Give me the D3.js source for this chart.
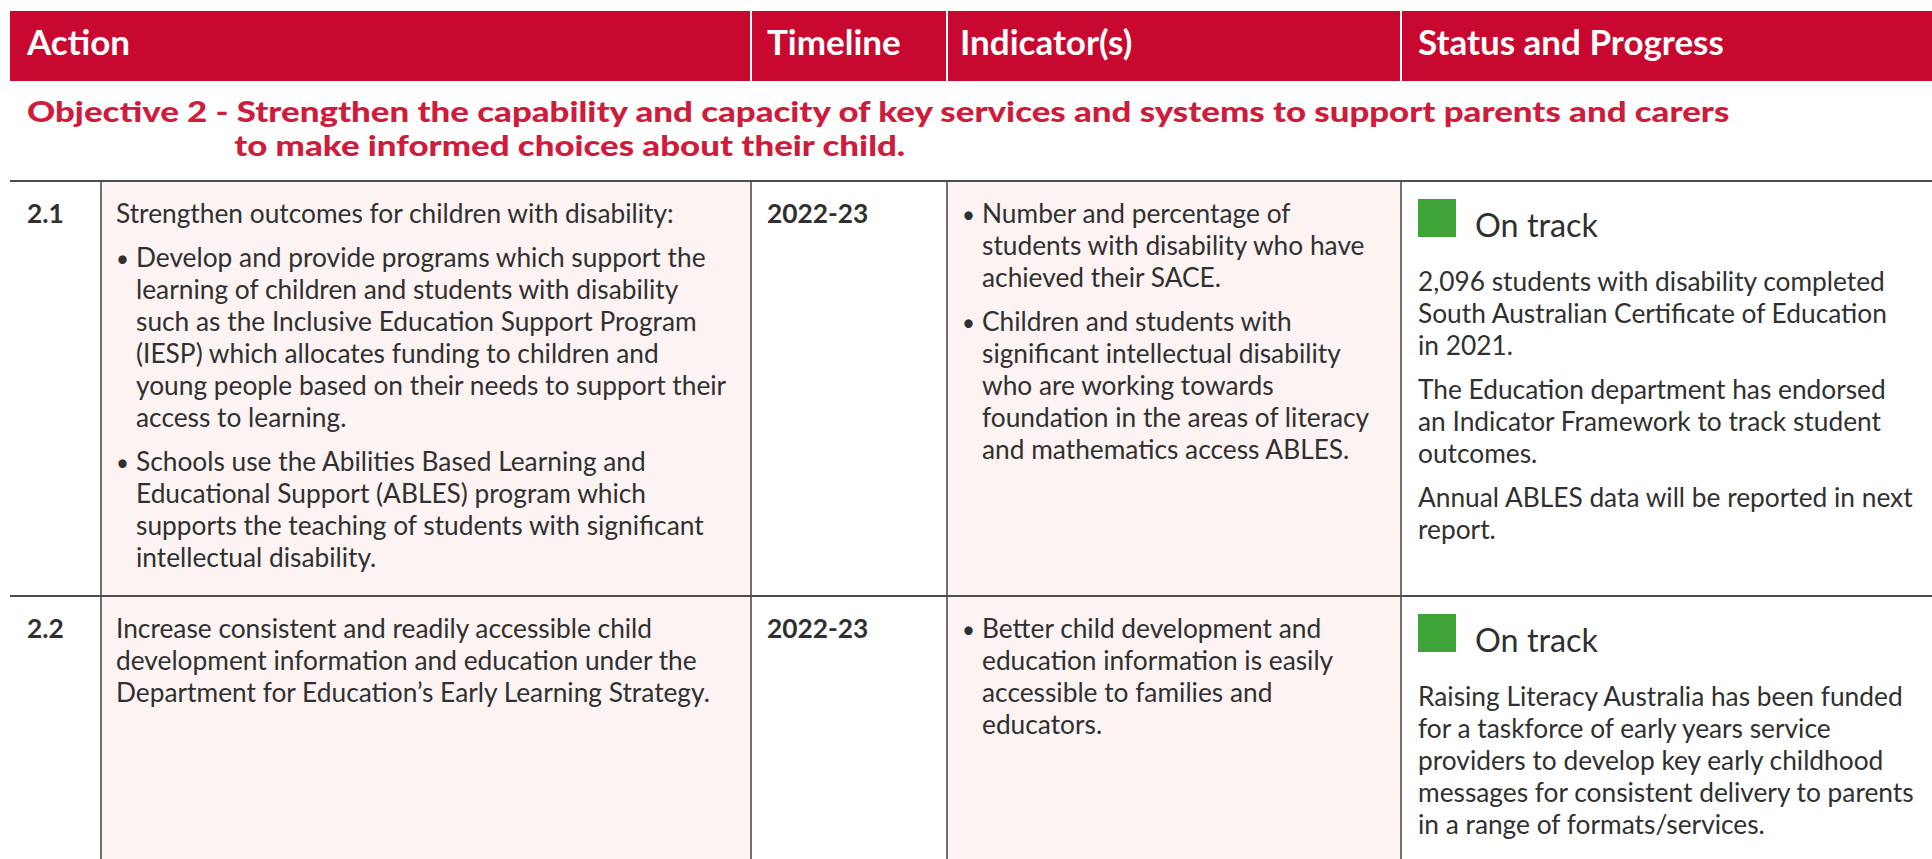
<!DOCTYPE html>
<html><head><meta charset="utf-8">
<script src="https://cdn.jsdelivr.net/npm/d3@7"></script>
<style>html,body{margin:0;padding:0;background:#fff;overflow:hidden}</style>
</head><body><svg id="chart" width="1932" height="859"></svg>
<script>
// ---------- data ----------
const headers = ["Action", "Timeline", "Indicator(s)", "Status and Progress"];
const objectivePrefix = "Objective 2 - ";
const objectiveLines = [
  "Strengthen the capability and capacity of key services and systems to support parents and carers",
  "to make informed choices about their child."
];
const rowIds = ["2.1", "2.2"];
const timelines = ["2022-23", "2022-23"];
const actions = [
  [
    { bullet: false, lines: ["Strengthen outcomes for children with disability:"] },
    { bullet: true, lines: ["Develop and provide programs which support the", "learning of children and students with disability", "such as the Inclusive Education Support Program", "(IESP) which allocates funding to children and", "young people based on their needs to support their", "access to learning."] },
    { bullet: true, lines: ["Schools use the Abilities Based Learning and", "Educational Support (ABLES) program which", "supports the teaching of students with significant", "intellectual disability."] }
  ],
  [
    { bullet: false, lines: ["Increase consistent and readily accessible child", "development information and education under the", "Department for Education’s Early Learning Strategy."] }
  ]
];
const indicators = [
  [
    ["Number and percentage of", "students with disability who have", "achieved their SACE."],
    ["Children and students with", "significant intellectual disability", "who are working towards", "foundation in the areas of literacy", "and mathematics access ABLES."]
  ],
  [
    ["Better child development and", "education information is easily", "accessible to families and", "educators."]
  ]
];
const statuses = ["On track", "On track"];
const progress = [
  [
    ["2,096 students with disability completed", "South Australian Certificate of Education", "in 2021."],
    ["The Education department has endorsed", "an Indicator Framework to track student", "outcomes."],
    ["Annual ABLES data will be reported in next", "report."]
  ],
  [
    ["Raising Literacy Australia has been funded", "for a taskforce of early years service", "providers to develop key early childhood", "messages for consistent delivery to parents", "in a range of formats/services."]
  ]
];

// ---------- layout ----------
const W = 1932, H = 859;
const FONT = "Lato, 'Open Sans', sans-serif";
const RED = "#C9082F", RED_TXT = "#D01C3C", PINK = "#FCF3F2", TXT = "#303030", LINE = "#4d4d4d", GREEN = "#3EA437";
const svg = d3.select("#chart");

const colKeys = ["id", "action", "timeline", "indicator", "status", "end"];
const colX = d3.scaleOrdinal(colKeys, [10, 101, 751, 947, 1401, W]);
const rowTop = d3.scaleOrdinal(rowIds, [181, 596]);
const rowBottom = (i) => i < rowIds.length - 1 ? rowTop(rowIds[i + 1]) : H;

function measure(sample, weight, size) {
  const t = svg.append("text").attr("font-family", FONT).attr("font-weight", weight)
    .attr("font-size", size).text(sample);
  const w = t.node().getComputedTextLength();
  t.remove();
  return w;
}
function fitSize(sample, weight, target) { return 100 * target / measure(sample, weight, 100); }
const headSize = fitSize("Status and Progress", 700, 306);
const bodySize = fitSize("Strengthen outcomes for children with disability:", 400, 558);
const trackSize = fitSize("On track", 400, 123);
// objective: fixed size, glyphs widened horizontally to reach the reference width (wide display face)
const OBJ_W = 900;
const objFull = objectivePrefix + objectiveLines[0];
const objSize = 27.5;
const objStretch = 1703 / measure(objFull, OBJ_W, objSize);

// header bar
svg.append("rect").attr("x", 10).attr("y", 11).attr("width", W - 10).attr("height", 70).attr("fill", RED);
const headCols = ["id", "timeline", "indicator", "status"];
const headOffset = [17, 16, 13, 17];
svg.selectAll("text.head").data(headers).join("text").attr("class", "head")
  .attr("x", (d, i) => colX(headCols[i]) + headOffset[i]).attr("y", 54.5)
  .attr("font-family", FONT).attr("font-weight", 700).attr("font-size", headSize)
  .attr("fill", "#fff").text(d => d);
svg.selectAll("line.hdiv").data(["timeline", "indicator", "status"]).join("line").attr("class", "hdiv")
  .attr("x1", d => colX(d)).attr("x2", d => colX(d)).attr("y1", 11).attr("y2", 81)
  .attr("stroke", "#fff").attr("stroke-width", 2);

// objective (one text block, hanging indent on the second line)
const obj = svg.append("text").attr("transform", `translate(27,0) scale(${objStretch},1)`)
  .attr("font-family", FONT).attr("font-weight", OBJ_W)
  .attr("font-size", objSize).attr("fill", RED_TXT);
obj.append("tspan").attr("x", 0).attr("y", 122.5).text(objectivePrefix + objectiveLines[0]);
const indent = obj.node().getSubStringLength(0, objectivePrefix.length);
obj.append("tspan").attr("x", indent - 2).attr("y", 156).text(objectiveLines[1]);

// pink cell backgrounds
rowIds.forEach((id, i) => {
  ["action", "indicator"].forEach(c => {
    const x0 = colX(c), x1 = colX(colKeys[colKeys.indexOf(c) + 1]);
    svg.append("rect").attr("x", x0).attr("y", rowTop(id)).attr("width", x1 - x0)
      .attr("height", rowBottom(i) - rowTop(id)).attr("fill", PINK);
  });
});

// grid lines
svg.selectAll("line.vline").data(["action", "timeline", "indicator", "status"]).join("line").attr("class", "vline")
  .attr("x1", d => colX(d)).attr("x2", d => colX(d)).attr("y1", rowTop(rowIds[0])).attr("y2", H)
  .attr("stroke", LINE).attr("stroke-width", 1.6);
svg.selectAll("line.hline").data(rowIds).join("line").attr("class", "hline")
  .attr("x1", 10).attr("x2", W).attr("y1", d => rowTop(d)).attr("y2", d => rowTop(d))
  .attr("stroke", LINE).attr("stroke-width", 2.2);

// text helpers
const LH = 32, GAP = 12, FIRST = 41.5;
function drawParas(paras, x, y0, bulleted) {
  let y = y0;
  paras.forEach((p, pi) => {
    const lines = p.lines || p;
    const hasBullet = p.lines ? p.bullet : bulleted;
    if (pi > 0) y += GAP;
    lines.forEach((ln, li) => {
      if (hasBullet && li === 0) {
        svg.append("text").attr("x", x).attr("y", y).attr("font-family", FONT)
          .attr("font-size", bodySize * 0.85).attr("fill", TXT).text("•");
      }
      svg.append("text").attr("x", hasBullet ? x + 20 : x).attr("y", y).attr("font-family", FONT)
        .attr("font-size", bodySize).attr("fill", TXT).text(ln);
      y += LH;
    });
  });
}

rowIds.forEach((id, i) => {
  const top = rowTop(id);
  svg.append("text").attr("x", 27).attr("y", top + FIRST).attr("font-family", FONT)
    .attr("font-weight", 700).attr("font-size", bodySize).attr("fill", TXT).text(id);
  drawParas(actions[i], colX("action") + 15, top + FIRST, false);
  svg.append("text").attr("x", colX("timeline") + 16).attr("y", top + FIRST).attr("font-family", FONT)
    .attr("font-weight", 700).attr("font-size", bodySize).attr("fill", TXT).text(timelines[i]);
  drawParas(indicators[i], colX("indicator") + 15, top + FIRST, true);
  svg.append("rect").attr("x", colX("status") + 17).attr("y", top + 18).attr("width", 38).attr("height", 38).attr("fill", GREEN);
  svg.append("text").attr("x", colX("status") + 74).attr("y", top + 56).attr("font-family", FONT)
    .attr("font-size", trackSize).attr("fill", TXT).text(statuses[i]);
  drawParas(progress[i], colX("status") + 17, top + 109.5, false);
});
</script></body></html>
